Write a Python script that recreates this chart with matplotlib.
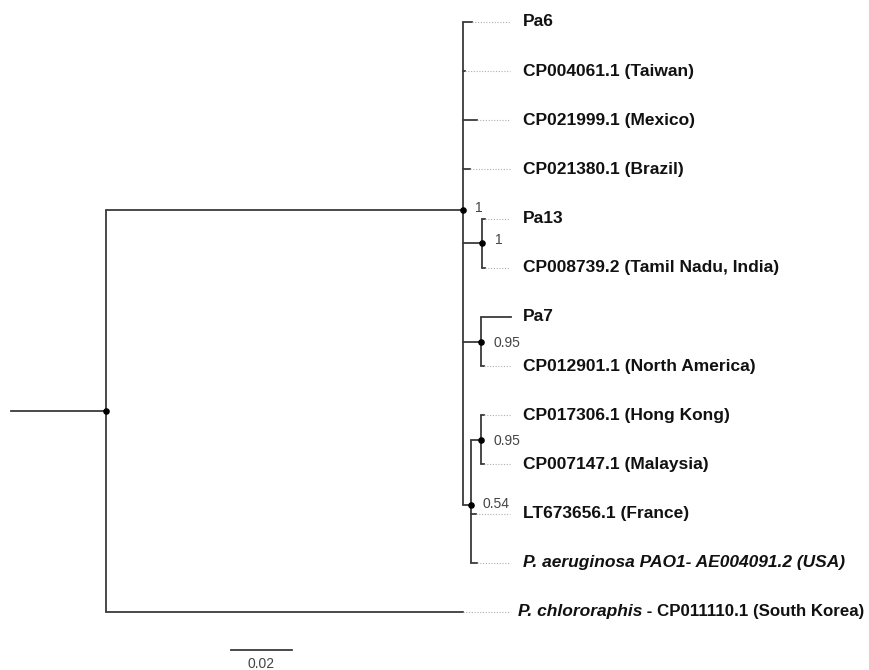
import numpy as np
import matplotlib.pyplot as plt

plt.rcParams['font.family'] = ['Liberation Sans', 'DejaVu Sans']

# leaves, top to bottom
leaf_labels = ['Pa6', 'CP004061.1 (Taiwan)', 'CP021999.1 (Mexico)', 'CP021380.1 (Brazil)',
               'Pa13', 'CP008739.2 (Tamil Nadu, India)', 'Pa7', 'CP012901.1 (North America)',
               'CP017306.1 (Hong Kong)', 'CP007147.1 (Malaysia)', 'LT673656.1 (France)',
               'P. aeruginosa PAO1- AE004091.2 (USA)', 'P. chlororaphis']
leaf_suffix = [''] * 12 + [' - CP011110.1 (South Korea)']
leaf_italic = [False] * 11 + [True, True]
leaf_parent = ['ingroup'] * 4 + ['pa13', 'pa13', 'pa7', 'pa7', 'hk', 'hk', 'clade', 'clade', 'root']
leaf_x = [0.1200, 0.1177, 0.1216, 0.1193, 0.1243, 0.1243, 0.1328, 0.1239,
          0.1239, 0.1239, 0.1213, 0.1216, 0.1170]

# internal nodes
node_names = ['root', 'ingroup', 'pa13', 'pa7', 'hk', 'clade']
node_parent = [None, 'root', 'ingroup', 'ingroup', 'clade', 'ingroup']
node_x = [0.0, 0.1170, 0.1233, 0.1230, 0.1230, 0.1197]
node_support = ['', '1', '1', '0.95', '0.95', '0.54']

root_stem = -0.0311
dot_end = 0.1325
label_x = 0.1367
scale_len = 0.02
scale_x0 = 0.041

nx = dict(zip(node_names, node_x))
ny = {}


def node_y(name):
    ys = [i for i, p in enumerate(leaf_parent) if p == name]
    ys += [node_y(n) for n, p in zip(node_names, node_parent) if p == name]
    ny[name] = np.mean(ys)
    return ny[name]


node_y('root')

fig = plt.figure(figsize=(8.69, 6.7), dpi=100)
ax = fig.add_axes([0, 0, 1, 1])
ax.set_xlim(-0.03475, 0.25016)
ax.set_ylim(13.18, -0.447)
ax.axis('off')

lc = '#3a3a3a'
lw = 1.3

# vertical lines at nodes
for n in node_names:
    ys = [i for i, p in enumerate(leaf_parent) if p == n]
    ys += [ny[c] for c, p in zip(node_names, node_parent) if p == n]
    ax.plot([nx[n], nx[n]], [min(ys), max(ys)], color=lc, lw=lw, solid_capstyle='butt')

# branches to internal nodes
for n, p in zip(node_names, node_parent):
    if p is None:
        ax.plot([root_stem, nx[n]], [ny[n], ny[n]], color=lc, lw=lw)
    else:
        ax.plot([nx[p], nx[n]], [ny[n], ny[n]], color=lc, lw=lw)

# branches to leaves + dotted guides + labels
for i, (lab, suf, it, p, x) in enumerate(zip(leaf_labels, leaf_suffix, leaf_italic, leaf_parent, leaf_x)):
    ax.plot([nx[p], x], [i, i], color=lc, lw=lw)
    if x < dot_end:
        ax.plot([x, dot_end], [i, i], color='#b0b0b0', lw=0.8, ls=(0, (1, 1.5)))
    lx = label_x if not suf else label_x - 0.0016
    t = ax.text(lx, i, lab, fontsize=12.5, fontweight='bold',
                style='italic' if it else 'normal', va='center', ha='left', color='#111111')
    if suf:
        ax.annotate(suf, xy=(1, 0.5), xycoords=t, va='center', ha='left',
                    fontsize=12.2, fontweight='bold', color='#111111')

# node dots and support values
for n, s in zip(node_names, node_support):
    ax.scatter([nx[n]], [ny[n]], s=14, color='black', zorder=3)
    if s:
        off = (9, 2) if n in ('ingroup', 'pa13') else (9, -1)
        if n == 'clade':
            off = (8, 1)
        ax.annotate(s, xy=(nx[n], ny[n]), xytext=off, textcoords='offset points',
                    fontsize=10, color='#444444', va='center', ha='left')

# scale bar
sy = 12.77
ax.plot([scale_x0, scale_x0 + scale_len], [sy, sy], color=lc, lw=lw)
ax.text(scale_x0 + scale_len / 2, sy + 0.29, '0.02', fontsize=10, color='#444444',
        ha='center', va='center')

fig.savefig('out.png', dpi=100)
